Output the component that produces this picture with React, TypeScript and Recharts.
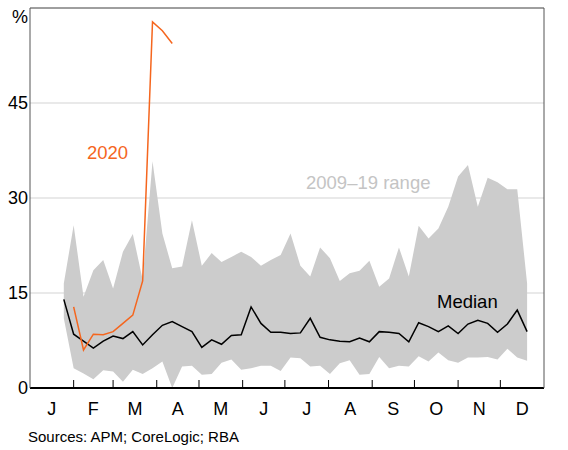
import {
  ComposedChart,
  Area,
  Line,
  XAxis,
  YAxis,
  CartesianGrid,
  ReferenceLine,
} from "recharts";

const monthLabels = ["J", "F", "M", "A", "M", "J", "J", "A", "S", "O", "N", "D"];
const monthStarts = [0, 31, 59, 90, 120, 151, 181, 212, 243, 273, 304, 334, 365];
const yTicks = [0, 15, 30, 45, 60];

// day of year for each weekly observation (late Jan to mid Dec)
const weekDays = [
  24, 31, 38, 45, 52, 59, 66, 73, 80, 87, 94, 101, 108, 115, 122, 129, 136, 143,
  150, 157, 164, 171, 178, 185, 192, 199, 206, 213, 220, 227, 234, 241, 248, 255,
  262, 269, 276, 283, 290, 297, 304, 311, 318, 325, 332, 339, 346, 353,
];

// 2009–19 range, min and max
const rangeLow = [
  11, 3.1, 2.3, 1.4, 2.8, 2.6, 1.0, 2.9, 2.2, 3.1, 4.2, 0, 3.4, 3.5, 2.1, 2.2,
  4.0, 4.5, 2.9, 3.1, 3.5, 3.5, 2.7, 4.8, 4.7, 3.4, 3.5, 2.2, 3.9, 4.4, 2.1, 2.2,
  4.9, 3.1, 3.5, 3.4, 5.0, 4.2, 5.6, 4.4, 4.0, 4.8, 4.8, 4.9, 4.5, 6.2, 4.8, 4.3,
];
const rangeHigh = [
  16.5, 25.7, 14.4, 18.6, 20.2, 15.7, 21.5, 24.3, 17.1, 35.8, 24.4, 18.9, 19.2,
  26.5, 19.3, 21.3, 19.9, 20.7, 21.5, 20.7, 19.3, 20.2, 21.0, 24.4, 19.3, 17.6,
  22.2, 20.5, 16.9, 18.1, 18.5, 20.1, 16.0, 17.3, 22.2, 17.6, 25.6, 23.6, 25.2,
  28.6, 33.4, 35.2, 28.6, 33.2, 32.5, 31.4, 31.4, 16.5,
];
const median = [
  14.0, 8.5, 7.4, 6.3, 7.4, 8.2, 7.8, 8.9, 6.8, 8.4, 9.9, 10.5, 9.7, 8.9, 6.4,
  7.6, 6.9, 8.3, 8.4, 12.8, 10.2, 8.8, 8.8, 8.6, 8.7, 11.0, 8.0, 7.6, 7.4, 7.3,
  7.9, 7.3, 8.9, 8.8, 8.6, 7.3, 10.3, 9.7, 8.9, 9.8, 8.6, 10.1, 10.7, 10.2, 8.8,
  10.1, 12.3, 8.9,
];
const y2020 = [null, 12.8, 6.0, 8.5, 8.4, 8.9, 10.2, 11.5, 16.9, 57.8, 56.4, 54.4];

const data = weekDays.map((day, i) => ({
  day,
  range: [rangeLow[i], rangeHigh[i]],
  median: median[i],
  y2020: i < y2020.length ? y2020[i] : null,
}));

const boundaries = monthStarts.slice(1, 12);
const mids = monthLabels.map((_, i) => (monthStarts[i] + monthStarts[i + 1]) / 2);
const xTicks = [...boundaries, ...mids].sort((a, b) => a - b);

const FONT = "'Liberation Sans', Arial, sans-serif";

function XTick(props: any) {
  const { x, y, payload } = props;
  const v = payload.value;
  const b = boundaries.indexOf(v);
  if (b >= 0) {
    return <line x1={x} x2={x} y1={y - 1} y2={y - 8} stroke="#000" strokeWidth={1} />;
  }
  const m = mids.indexOf(v);
  return (
    <text x={x} y={y + 27} textAnchor="middle" fontSize={18} fill="#000" fontFamily={FONT}>
      {monthLabels[m]}
    </text>
  );
}

function YTick(props: any) {
  const { x, y, payload, textAnchor } = props;
  const top = payload.value === 60;
  return (
    <text
      x={x}
      y={y}
      dy={top ? 14 : 6}
      textAnchor={textAnchor}
      fontSize={18}
      fill="#000"
      fontFamily={FONT}
    >
      {top ? "%" : payload.value}
    </text>
  );
}

export default function App() {
  return (
    <div
      style={{
        position: "fixed",
        left: 0,
        top: 0,
        width: 568,
        height: 450,
        fontFamily: FONT,
        background: "#fff",
      }}
    >
      <ComposedChart width={568} height={450} data={data} margin={{ top: 8, right: 0, bottom: 32, left: 0 }}>
        <CartesianGrid vertical={false} stroke="#d3d3d3" yAxisId="left" />
        <XAxis
          dataKey="day"
          type="number"
          domain={[0, 365]}
          ticks={xTicks}
          interval={0}
          tick={<XTick />}
          tickLine={false}
          tickSize={0}
          tickMargin={0}
          height={30}
          axisLine={{ stroke: "#000", strokeWidth: 2 }}
        />
        <YAxis
          yAxisId="left"
          domain={[0, 60]}
          ticks={yTicks}
          width={30}
          tickLine={false}
          tickSize={0}
          tickMargin={2}
          tick={<YTick />}
          axisLine={{ stroke: "#555" }}
        />
        <YAxis
          yAxisId="right"
          orientation="right"
          domain={[0, 60]}
          ticks={yTicks}
          width={24}
          tickLine={false}
          tickSize={0}
          tickMargin={2}
          tick={<YTick />}
          axisLine={{ stroke: "#555" }}
        />
        <ReferenceLine yAxisId="left" y={60} stroke="#555" />
        <Area
          yAxisId="left"
          type="linear"
          dataKey="range"
          stroke="none"
          fill="#cccccc"
          fillOpacity={1}
          isAnimationActive={false}
        />
        <Line
          yAxisId="left"
          type="linear"
          dataKey="median"
          stroke="#000"
          strokeWidth={1.5}
          dot={false}
          isAnimationActive={false}
        />
        <Line
          yAxisId="left"
          type="linear"
          dataKey="y2020"
          stroke="#f5661e"
          strokeWidth={1.5}
          dot={false}
          connectNulls={false}
          isAnimationActive={false}
        />
      </ComposedChart>
      <div style={{ position: "absolute", left: 87, top: 143, fontSize: 18.5, lineHeight: "20px", color: "#f5661e" }}>
        2020
      </div>
      <div style={{ position: "absolute", left: 306, top: 173, fontSize: 18.5, lineHeight: "20px", color: "#c4c4c4" }}>
        2009–19 range
      </div>
      <div style={{ position: "absolute", left: 437, top: 292, fontSize: 18.5, lineHeight: "20px", color: "#000" }}>
        Median
      </div>
      <div style={{ position: "absolute", left: 28, top: 428, fontSize: 15, lineHeight: "17px", color: "#000" }}>
        Sources: APM; CoreLogic; RBA
      </div>
    </div>
  );
}
